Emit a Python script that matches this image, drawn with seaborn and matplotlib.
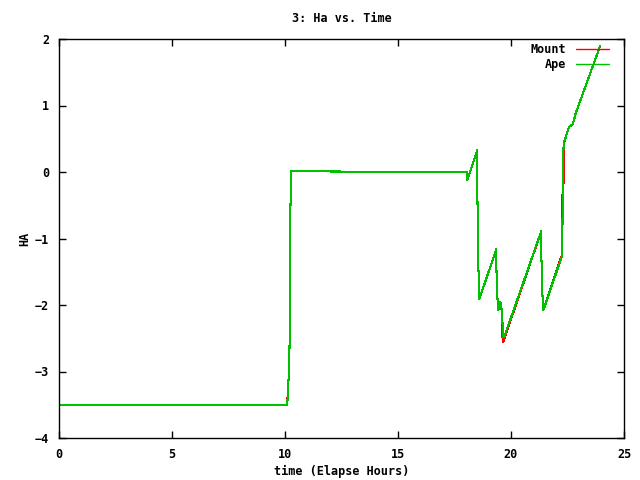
import matplotlib
matplotlib.use('Agg')
import matplotlib.pyplot as plt
import seaborn as sns

sns.set_style("ticks")
plt.rcParams['font.family'] = ['DejaVu Sans Mono']
plt.rcParams['font.size'] = 8.5
plt.rcParams['font.weight'] = 'bold'
plt.rcParams['text.color'] = 'black'
plt.rcParams['axes.labelcolor'] = 'black'

# Ape (green) - elapsed hours vs HA
ape_time = [0.0, 10.10, 10.13, 10.19, 10.22, 10.23, 10.28, 18.04, 18.07, 18.51, 18.51,
            18.55, 18.60, 19.35, 19.35, 19.39, 19.44, 19.51, 19.55, 19.59, 19.66, 19.71,
            21.34, 21.34, 21.38, 21.43, 22.27, 22.29, 22.31, 22.33, 22.38, 22.57, 22.74,
            22.86, 23.94]
ape_ha = [-3.50, -3.50, -3.29, -2.90, -2.03, -0.67, 0.01, 0.00, -0.12, 0.33, -0.25,
          -1.35, -1.91, -1.16, -1.40, -1.85, -2.08, -1.95, -1.97, -2.08, -2.48, -2.47,
          -0.89, -1.20, -1.78, -2.08, -1.25, -0.10, 0.18, 0.44, 0.48, 0.68, 0.72,
          0.88, 1.89]

# Mount (red)
mount_time = [0.0, 10.09, 10.13, 10.19, 10.22, 10.23, 10.28, 18.04, 18.07, 18.51, 18.51,
              18.55, 18.60, 19.35, 19.35, 19.39, 19.44, 19.51, 19.58, 19.60, 19.66, 19.71,
              21.34, 21.34, 21.38, 21.43, 22.25, 22.25, 22.26, 22.34, 22.35, 22.38, 22.57,
              22.74, 22.86, 23.94]
mount_ha = [-3.51, -3.51, -3.29, -2.90, -2.03, -0.67, 0.01, 0.00, -0.12, 0.33, -0.25,
            -1.35, -1.91, -1.16, -1.40, -1.85, -2.08, -1.95, -2.05, -2.45, -2.56, -2.50,
            -0.89, -1.20, -1.78, -2.08, -1.25, -0.76, -0.42, -0.10, 0.44, 0.48, 0.68,
            0.72, 0.88, 1.89]

fig = plt.figure(figsize=(6.4, 4.8), dpi=100)
ax = fig.add_axes([59 / 640, 42 / 480, 565 / 640, 399 / 480])

sns.lineplot(x=mount_time, y=mount_ha, color="#ff0000", label="Mount", sort=False,
             estimator=None, linewidth=0.75, antialiased=False, ax=ax)
sns.lineplot(x=ape_time, y=ape_ha, color="#00c000", label="Ape", sort=False,
             estimator=None, linewidth=0.75, antialiased=False, ax=ax)

ax.set_xlim(0, 25)
ax.set_ylim(-4, 2)
ax.set_xticks([0, 5, 10, 15, 20, 25])
ax.set_yticks([-4, -3, -2, -1, 0, 1, 2])
ax.tick_params(direction="in", length=5, width=1, top=True, right=True, pad=7,
               labelsize=8.5, colors="black")
for sp in ax.spines.values():
    sp.set_linewidth(1)
    sp.set_color("black")

ax.set_title("3: Ha vs. Time", fontsize=8.5, fontweight="bold", pad=12)
ax.set_xlabel("time (Elapse Hours)", fontsize=8.5, fontweight="bold", labelpad=3)
ax.set_ylabel("HA", fontsize=8.5, fontweight="bold", labelpad=3)

leg = ax.legend(loc="upper right", frameon=False, markerfirst=False, handlelength=2.8,
                handletextpad=0.8, labelspacing=0.2, borderpad=0, borderaxespad=0,
                bbox_to_anchor=(1 - 15 / 565, 1 - 4 / 399), prop={"size": 8.5, "weight": "bold"})
for h in leg.get_lines():
    h.set_linewidth(1.0)

plt.savefig("out.png", dpi=100)
